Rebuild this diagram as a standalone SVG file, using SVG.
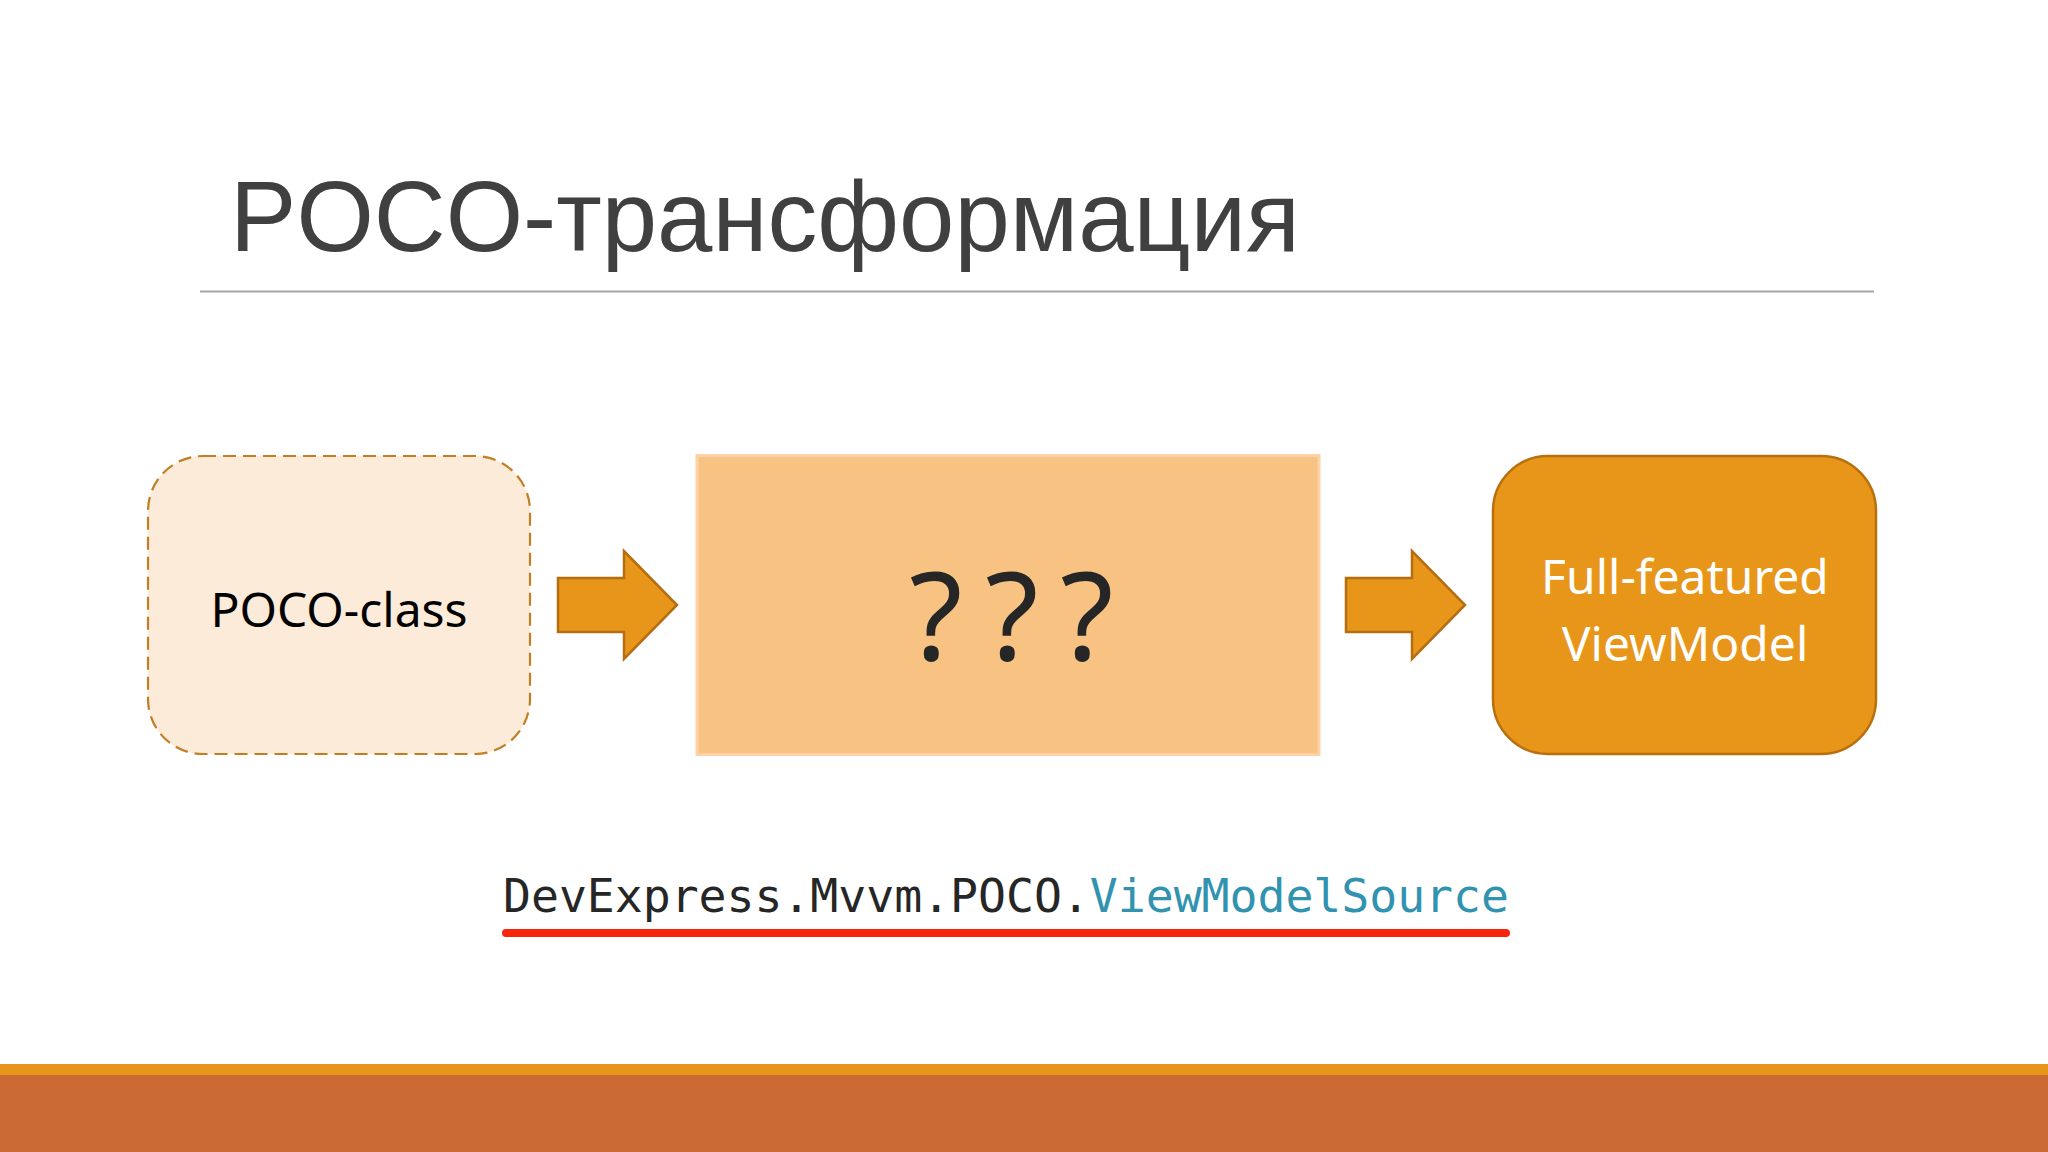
<svg xmlns="http://www.w3.org/2000/svg" width="2048" height="1152" viewBox="0 0 2048 1152">
<style>
.title{font-family:"Liberation Sans",Arial,sans-serif;font-size:100px;fill:#404040}
.lbl{font-family:"Noto Sans","Open Sans",sans-serif;font-size:48px}
.arrow{fill:#e8961a;stroke:#b56d12;stroke-width:2.5;stroke-linejoin:miter}
.code{font-family:"DejaVu Sans Mono","Liberation Mono",monospace;font-size:46.5px}
</style>
<rect x="0" y="0" width="2048" height="1152" fill="#ffffff"/>
<g id="title">
<text class="title" x="230" y="251" textLength="1070" lengthAdjust="spacingAndGlyphs">POCO-трансформация</text>
<line x1="200" y1="291.5" x2="1874" y2="291.5" stroke="#a6a6a6" stroke-width="2"/>
</g>
<g id="poco-class">
<rect x="148" y="456" width="382" height="298" rx="55" ry="55" fill="#fdebd9" stroke="#c17e22" stroke-width="2.2" stroke-dasharray="13,7"/>
<text class="lbl" x="339" y="627" text-anchor="middle" fill="#000000">POCO-class</text>
</g>
<g id="unknown">
<rect x="697" y="455.5" width="622" height="299" fill="#f8c283" stroke="#fbd3a6" stroke-width="3"/>
<text x="936 1012 1087" y="660" text-anchor="middle" font-family="Noto Sans, Open Sans, sans-serif" font-size="122" fill="#262626">???</text>
</g>
<g id="viewmodel">
<rect x="1493" y="456" width="383" height="298" rx="55" ry="55" fill="#e8961a" stroke="#b8700f" stroke-width="2.5"/>
<text class="lbl" x="1685" y="594" text-anchor="middle" fill="#ffffff" font-size="49">Full-featured</text>
<text class="lbl" x="1685" y="661" text-anchor="middle" fill="#ffffff" font-size="49">ViewModel</text>
</g>
<g id="connectors">
<polygon class="arrow" points="558,578 624,578 624,551 677,605 624,659 624,632 558,632"/>
<polygon class="arrow" points="1346,578 1412,578 1412,551 1465,605 1412,659 1412,632 1346,632"/>
</g>
<g id="code">
<text class="code" x="503" y="912" textLength="1006" lengthAdjust="spacing"><tspan fill="#262626">DevExpress.Mvvm.POCO.</tspan><tspan fill="#3193b0">ViewModelSource</tspan></text>
<line x1="506" y1="933" x2="1506" y2="933" stroke="#f5260c" stroke-width="8" stroke-linecap="round"/>
</g>
<g id="footer">
<rect x="0" y="1064" width="2048" height="12" fill="#e8961a"/>
<rect x="0" y="1075" width="2048" height="77" fill="#cb6a35"/>
</g>
</svg>
